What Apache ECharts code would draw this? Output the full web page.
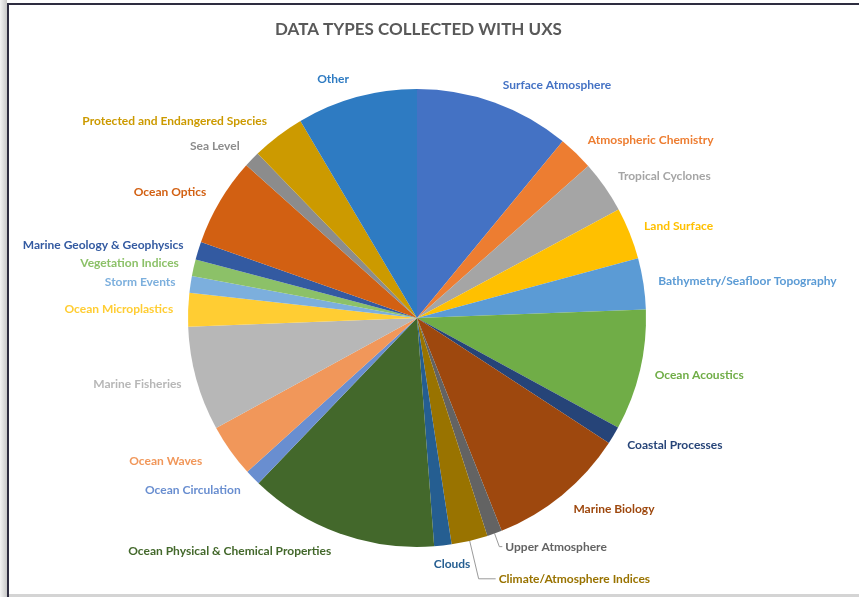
<!DOCTYPE html>
<html>
<head>
<meta charset="utf-8">
<script src="https://cdn.jsdelivr.net/npm/echarts@6/dist/echarts.min.js"></script>
<style>
  html, body { margin: 0; padding: 0; background: #fff; }
  #frame { position: absolute; left: 0; top: 0; width: 859px; height: 597px; overflow: hidden; background: #fff; }
  #shadow { position: absolute; left: 0; top: 0; width: 7px; height: 597px; background: linear-gradient(to right, #f4f4f4, #c8c8c8); }
  #vline { position: absolute; left: 7px; top: 3px; width: 2px; height: 597px; background: #2e2d40; }
  #hline { position: absolute; left: 7px; top: 3px; width: 852px; height: 2px; background: #2e2d40; }
  #bottom { position: absolute; left: 9px; top: 594px; width: 850px; height: 3px; background: #d4d4d4; }
  #chart { position: absolute; left: 0; top: 0; width: 859px; height: 597px; }
</style>
</head>
<body>
<div id="frame">
  <div id="chart"></div>
  <div id="shadow"></div>
  <div id="vline"></div>
  <div id="hline"></div>
  <div id="bottom"></div>
</div>
<script>
const categories = [
  "Surface Atmosphere", "Atmospheric Chemistry", "Tropical Cyclones", "Land Surface",
  "Bathymetry/Seafloor Topography", "Ocean Acoustics", "Coastal Processes", "Marine Biology",
  "Upper Atmosphere", "Climate/Atmosphere Indices", "Clouds", "Ocean Physical & Chemical Properties",
  "Ocean Circulation", "Ocean Waves", "Marine Fisheries", "Ocean Microplastics",
  "Storm Events", "Vegetation Indices", "Marine Geology & Geophysics", "Ocean Optics",
  "Sea Level", "Protected and Endangered Species", "Other"
];
const values = [
  39.5, 8.9, 13.3, 13.2,
  13.0, 30.7, 4.5, 35.2,
  3.8, 9.2, 4.4, 48.1,
  4.0, 13.5, 26.5, 8.5,
  4.3, 4.2, 4.6, 22.4,
  4.1, 13.5, 30.6
];
const colors = [
  "#4472C4", "#ED7D31", "#A5A5A5", "#FFC000",
  "#5B9BD5", "#70AD47", "#264478", "#9E480E",
  "#636363", "#997300", "#255E91", "#43682B",
  "#698ED0", "#F1975A", "#B7B7B7", "#FFCD33",
  "#7CAFDD", "#8CC168", "#335AA1", "#D26012",
  "#8C8C8C", "#CC9A00", "#2E7BC2"
];
// labels drawn with a leader line, and their line lengths [first, second]
const leaderLines = {
  "Upper Atmosphere": [14, 3],
  "Climate/Atmosphere Indices": [39, 17]
};
// extra horizontal push for a few labels (Excel best-fit placement)
const extraPush = { "Ocean Waves": 15 };

const total = values.reduce((a, b) => a + b, 0);
const midAngles = [];
let acc = 0;
values.forEach(v => { midAngles.push((acc + v / 2) / total * 2 * Math.PI); acc += v; });

const chart = echarts.init(document.getElementById('chart'), null, { renderer: 'canvas' });
const data = categories.map((c, i) => {
  const ll = leaderLines[c];
  const item = {
    name: c,
    value: values[i],
    itemStyle: { color: colors[i] },
    label: { color: colors[i] },
    labelLine: { show: !!ll }
  };
  if (ll) {
    item.labelLine.length = ll[0];
    item.labelLine.length2 = ll[1];
    item.label.distanceToLabelLine = 3;
  } else if (extraPush[c]) {
    item.labelLine.length2 = extraPush[c];
  }
  return item;
});

chart.setOption({
  animation: false,
  backgroundColor: '#fff',
  title: {
    text: 'DATA TYPES COLLECTED WITH UXS',
    left: 270,
    top: 16,
    textStyle: { fontFamily: 'Lato', fontWeight: 'bold', fontSize: 17, color: '#595959' }
  },
  series: [{
    type: 'pie',
    center: [417, 318],
    radius: 229,
    startAngle: 90,
    clockwise: true,
    avoidLabelOverlap: false,
    data: data,
    label: {
      show: true,
      position: 'outside',
      formatter: '{b}',
      fontFamily: 'Lato',
      fontWeight: 'bold',
      fontSize: 12,
      distanceToLabelLine: 5
    },
    labelLine: { length: 10, length2: 0, lineStyle: { color: '#9a9a9a', width: 1 } },
    labelLayout: function (params) {
      const name = categories[params.dataIndex];
      if (leaderLines[name]) return {};
      const a = midAngles[params.dataIndex];
      const out = { dy: -Math.cos(a) * 8.5 };
      if (name === 'Clouds') {
        out.align = 'center';
        out.dx = 3;
      }
      return out;
    },
    itemStyle: { borderWidth: 0 },
    emphasis: { disabled: true }
  }]
});
</script>
</body>
</html>
